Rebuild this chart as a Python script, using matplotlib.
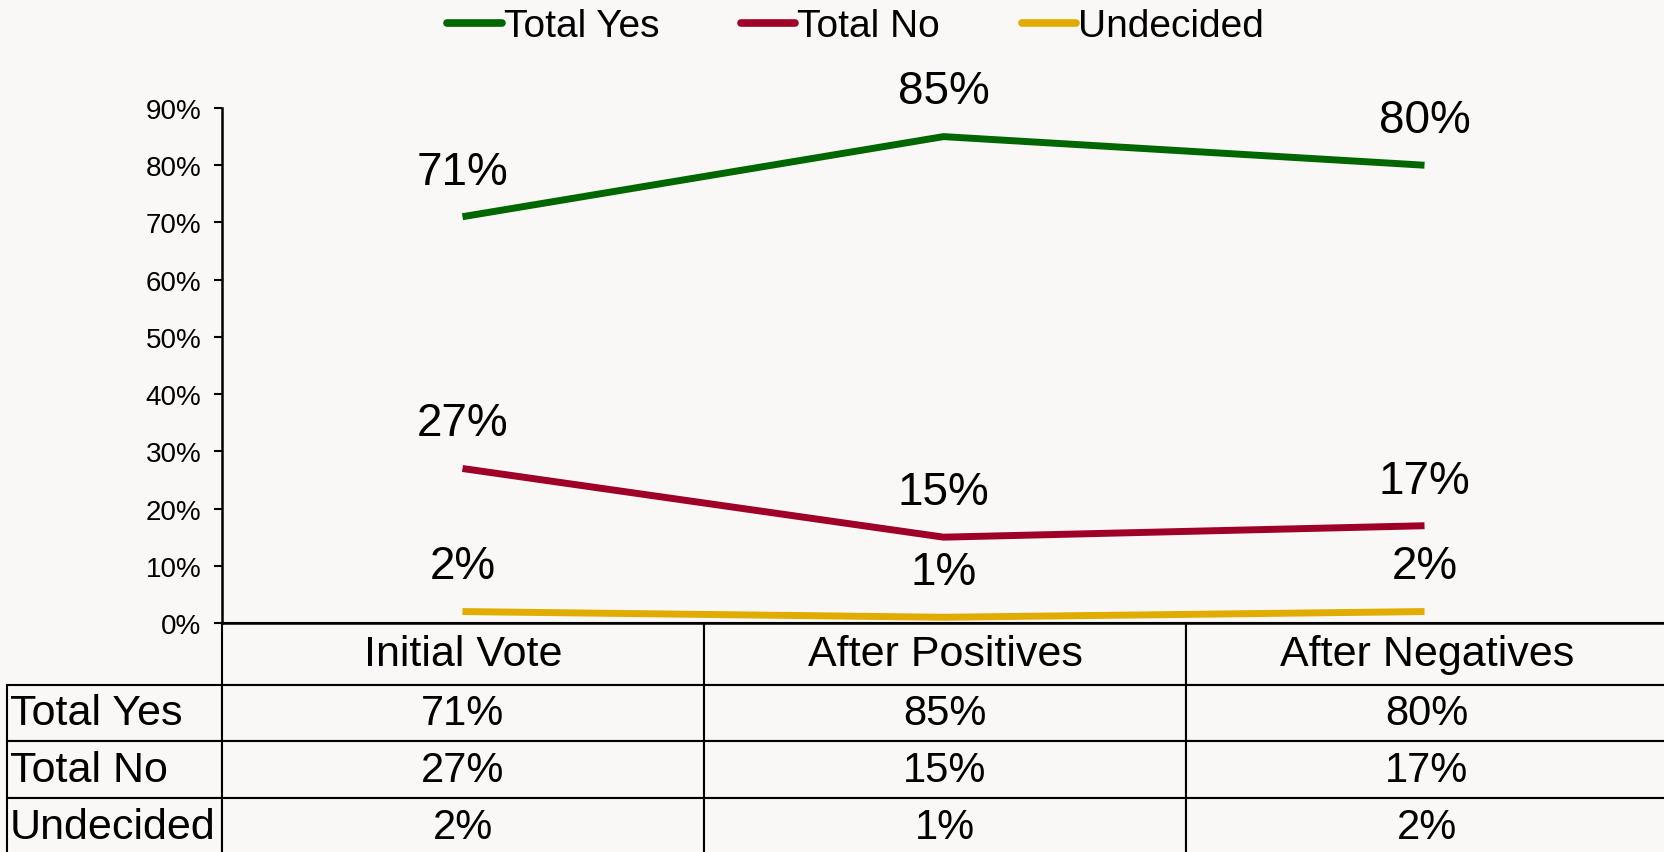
import matplotlib
matplotlib.use('Agg')
import matplotlib.pyplot as plt
from matplotlib.ticker import PercentFormatter

plt.rcParams['font.family'] = ['Liberation Sans', 'DejaVu Sans']

# data
stages = ['Initial Vote', 'After Positives', 'After Negatives']
series_names = ['Total Yes', 'Total No', 'Undecided']
total_yes = [0.71, 0.85, 0.80]
total_no = [0.27, 0.15, 0.17]
undecided = [0.02, 0.01, 0.02]
colores = ['#006600', '#9E0028', '#E0AC00']
yticks = [0, 0.1, 0.2, 0.3, 0.4, 0.5, 0.6, 0.7, 0.8, 0.9]

bg = '#F9F8F6'
W, H = 1665, 853
fig = plt.figure(figsize=(W / 100, H / 100), dpi=100, facecolor=bg)

# axes box in pixels: x 222..1665, y 109..624
ax_l, ax_r, ax_t, ax_b = 222, 1665, 109, 624
ax = fig.add_axes([ax_l / W, 1 - ax_b / H, (ax_r - ax_l) / W, (ax_b - ax_t) / H])
ax.set_facecolor(bg)

x = range(len(stages))
todas = [total_yes, total_no, undecided]
for vals, nombre, c in zip(todas, series_names, colores):
    ax.plot(x, vals, color=c, lw=5.0, label=nombre, solid_capstyle='butt', clip_on=False)
    for xi, v in zip(x, vals):
        ax.annotate(f'{round(v * 100)}%', (xi, v), xytext=(0, 32.5), textcoords='offset points',
                    ha='center', va='center', fontsize=33)

ax.set_xlim(-0.5, len(stages) - 0.5)
ax.set_ylim(0, 0.9)
ax.set_yticks(yticks)
ax.yaxis.set_major_formatter(PercentFormatter(1.0, decimals=0))
ax.tick_params(axis='y', direction='out', length=6, width=1.5, labelsize=20, pad=9)
ax.set_xticks([])
for s in ['top', 'right']:
    ax.spines[s].set_visible(False)
for s in ['left', 'bottom']:
    ax.spines[s].set_linewidth(1.8)

# table under the chart; first column holds the series names
celdas = [[nombre] + [f'{round(v * 100)}%' for v in vals] for nombre, vals in zip(series_names, todas)]
ancho_ax = ax_r - ax_l
alto_ax = ax_b - ax_t
izq = 7
alto_tabla = H + 3 - ax_b
tabla = ax.table(cellText=celdas, colLabels=[''] + stages,
                 cellLoc='center', colLoc='center',
                 bbox=[(izq - ax_l) / ancho_ax, -alto_tabla / alto_ax,
                       (ax_r + 3 - izq) / ancho_ax, alto_tabla / alto_ax])
tabla.auto_set_font_size(False)
tabla.set_fontsize(30)
for (r, c), cell in tabla.get_celld().items():
    cell.set_facecolor(bg)
    cell.set_linewidth(1.5)
    cell.set_width(215 if c == 0 else 482)
    cell.set_height(62 if r == 0 else 57)
    if r == 0:
        cell.get_text().set_fontsize(31)
    if c == 0:
        cell.PAD = 0.012
        cell._loc = 'left'
        cell.get_text().set_horizontalalignment('left')
        cell.get_text().set_fontsize(31)
        if r == 0:
            cell.visible_edges = ''

leg = fig.legend(loc='center', bbox_to_anchor=(0.514, 0.968), ncol=3, frameon=False,
                 fontsize=28, handlelength=1.4, handletextpad=0.05, columnspacing=2.1)
for h in leg.get_lines():
    h.set_solid_capstyle('round')
    h.set_linewidth(5.5)

plt.savefig('out.png', dpi=100, facecolor=bg)
